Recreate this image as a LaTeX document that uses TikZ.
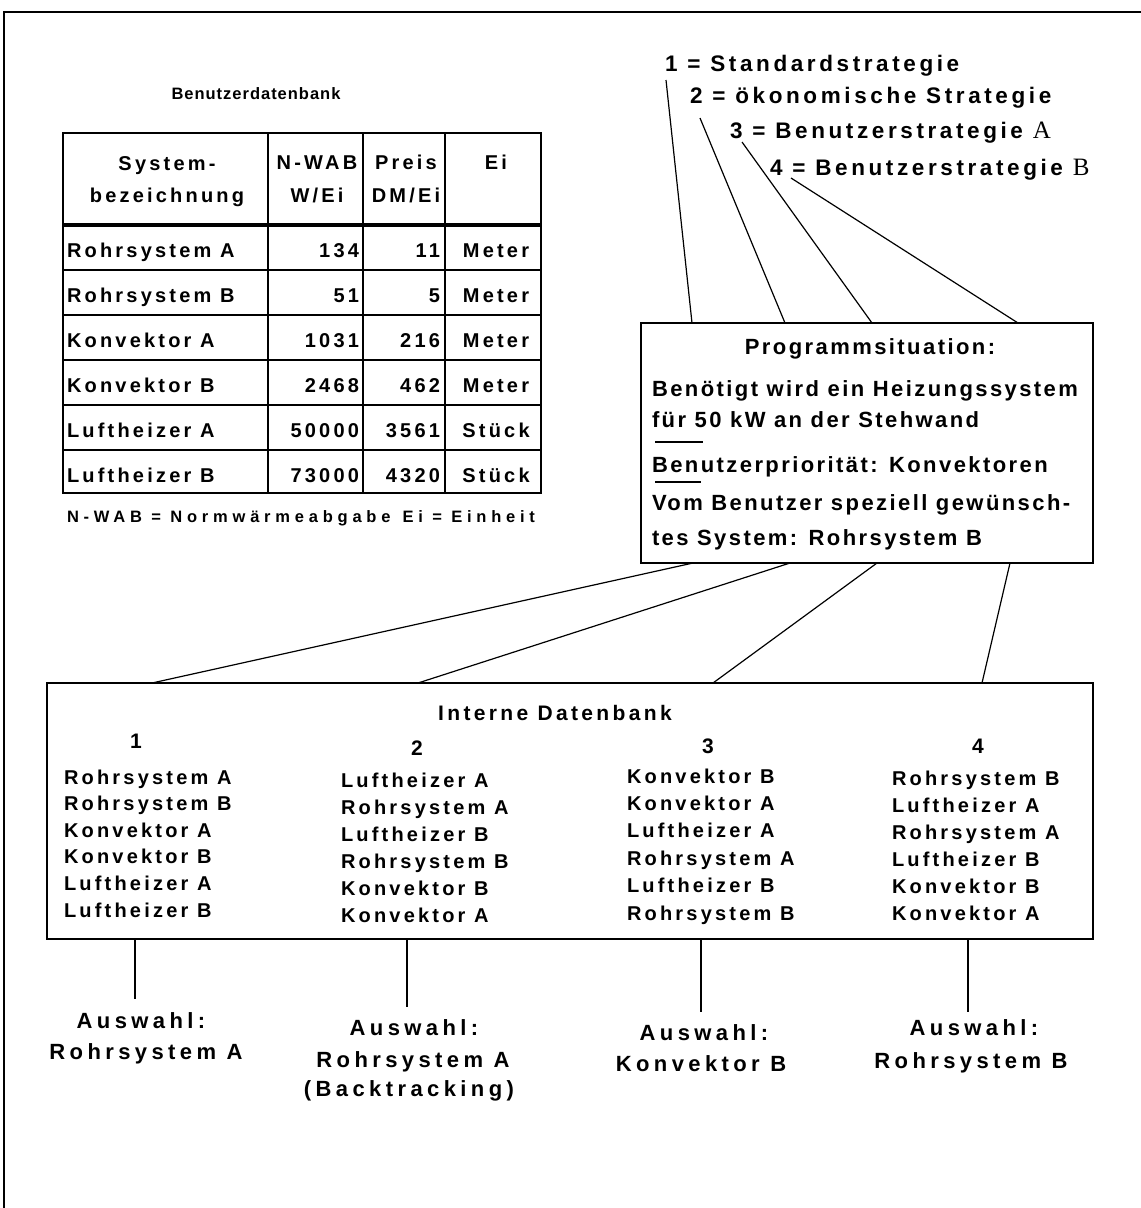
\documentclass[tikz,border=0pt]{standalone}
\usepackage{fontspec}
% one grotesque face, several trackings
\newfontfamily\gA[LetterSpace=16]{Liberation Sans}
\newfontfamily\gB[LetterSpace=11]{Liberation Sans}
\newfontfamily\gC[LetterSpace=20]{Liberation Sans}
\newfontfamily\gD[LetterSpace=29]{Liberation Sans}
\newfontfamily\gE[LetterSpace=6]{Liberation Sans}
\newfontfamily\antiqua{Liberation Serif}
\newcommand{\serifletter}[1]{{\antiqua\mdseries\fontsize{25}{25}\selectfont #1}}
\begin{document}
\begin{tikzpicture}[x=1pt,y=-1pt,
  every node/.style={inner sep=0pt, outer sep=0pt},
  txt/.style={anchor=base, font=\gA\bfseries\fontsize{20}{24}\selectfont},
  strat/.style={anchor=base west, font=\gA\bfseries\fontsize{22.5}{26}\selectfont},
  situ/.style={anchor=base west, font=\gB\bfseries\fontsize{22}{26}\selectfont},
  idbt/.style={anchor=base, font=\gA\bfseries\fontsize{21}{25}\selectfont},
  choice/.style={anchor=base, font=\gC\bfseries\fontsize{22}{26}\selectfont},
  note/.style={anchor=base west, font=\gD\bfseries\fontsize{16.5}{18}\selectfont},
  ttl/.style={anchor=base, font=\gE\bfseries\fontsize{16.5}{18}\selectfont},
  grid/.style={line width=1.8pt},
  link/.style={line width=1.2pt},
  frame/.style={draw, line width=2pt},
  tick/.style={line width=1.6pt}
]
\useasboundingbox (0,0) rectangle (1141,1208);

% page frame
\draw[line width=2pt] (4,1208) -- (4,12) -- (1141,12);

% ---------- user data base table ----------
\node[ttl] (dbtitle) at (256,99) {Benutzerdatenbank};
\draw[grid] (63,133) rectangle (541,493);
\foreach \xx in {268,363,445} \draw[grid] (\xx,133) -- (\xx,493);
\foreach \yy in {270,315,360,405,450} \draw[grid] (63,\yy) -- (541,\yy);
\draw[line width=3.6pt] (63,225) -- (541,225);

\node[txt] (h1a) at (167,170) {System-};
\node[txt] (h1b) at (167,202) {bezeichnung};
\node[txt] (h2a) at (317,169) {N-WAB};
\node[txt] (h2b) at (317,202) {W/Ei};
\node[txt] (h3a) at (406,169) {Preis};
\node[txt] (h3b) at (406,202) {DM/Ei};
\node[txt] (h4a) at (496,169) {Ei};

\foreach \nm/\wab/\pr/\ei [count=\k] in {Rohrsystem A/134/11/Meter,
    Rohrsystem B/51/5/Meter, Konvektor A/1031/216/Meter,
    Konvektor B/2468/462/Meter, Luftheizer A/50000/3561/Stück,
    Luftheizer B/73000/4320/Stück}{
  \node[txt, anchor=base west] (rn\k) at (67,212+45*\k) {\nm};
  \node[txt, anchor=base east] (rw\k) at (359,212+45*\k) {\wab};
  \node[txt, anchor=base east] (rp\k) at (440,212+45*\k) {\pr};
  \node[txt] (re\k) at (496,212+45*\k) {\ei};
}
\node[note] (legend) at (67,522) {N-WAB = Normwärmeabgabe\hspace{12pt}Ei = Einheit};

% ---------- strategies ----------
\node[strat] (s1) at (665,71) {1 = Standardstrategie};
\node[strat] (s2) at (690,103) {2 = ökonomische Strategie};
\node[strat] (s3) at (730,138) {3 = Benutzerstrategie \serifletter{A}};
\node[strat] (s4) at (770,175) {4 = Benutzerstrategie \serifletter{B}};

% ---------- program situation ----------
\node[frame, minimum width=452pt, minimum height=240pt] (prog) at (867,443) {};
\node[situ, anchor=base] (ptitle) at (870,354) {Programmsituation:};
\node[situ] (pl1) at (652,396) {Benötigt wird ein Heizungssystem};
\node[situ] (pl2) at (652,427) {für 50 kW an der Stehwand};
\node[situ] (pl3) at (652,472) {Benutzerpriorität: Konvektoren};
\node[situ] (pl4) at (652,510) {Vom Benutzer speziell gewünsch-};
\node[situ] (pl5) at (652,545) {tes System: Rohrsystem B};
\coordinate (u1a) at (655,442); \coordinate (u1b) at (703,442);
\coordinate (u2a) at (655,482); \coordinate (u2b) at (701,482);
\draw[tick] (u1a) -- (u1b);
\draw[tick] (u2a) -- (u2b);

% strategy leaders into the situation box
\coordinate (a1) at (666,80);  \coordinate (b1) at (692,323);
\coordinate (a2) at (700,118); \coordinate (b2) at (785,323);
\coordinate (a3) at (742,142); \coordinate (b3) at (872,323);
\coordinate (a4) at (791,178); \coordinate (b4) at (1018,323);
\foreach \i in {1,...,4} \draw[link] (a\i) -- (b\i);

% ---------- internal data base ----------
\node[frame, minimum width=1046pt, minimum height=256pt] (idb) at (570,811) {};
\node[idbt] (ititle) at (555,720) {Interne Datenbank};

\coordinate (c1) at (693,563); \coordinate (d1) at (152,683);
\coordinate (c2) at (790,563); \coordinate (d2) at (418,683);
\coordinate (c3) at (877,563); \coordinate (d3) at (713,683);
\coordinate (c4) at (1010,563); \coordinate (d4) at (982,683);
\foreach \i in {1,...,4} \draw[link] (c\i) -- (d\i);

\node[idbt] (n1) at (136,748) {1};
\node[idbt] (n2) at (417,755) {2};
\node[idbt] (n3) at (708,753) {3};
\node[idbt] (n4) at (978,753) {4};

\foreach \e [count=\k] in {Rohrsystem A, Rohrsystem B, Konvektor A,
    Konvektor B, Luftheizer A, Luftheizer B}
  \node[txt, anchor=base west] (la\k) at (64,784+26.6*\k-26.6) {\e};
\foreach \e [count=\k] in {Luftheizer A, Rohrsystem A, Luftheizer B,
    Rohrsystem B, Konvektor B, Konvektor A}
  \node[txt, anchor=base west] (lb\k) at (341,787+27*\k-27) {\e};
\foreach \e [count=\k] in {Konvektor B, Konvektor A, Luftheizer A,
    Rohrsystem A, Luftheizer B, Rohrsystem B}
  \node[txt, anchor=base west] (lc\k) at (627,783+27.4*\k-27.4) {\e};
\foreach \e [count=\k] in {Rohrsystem B, Luftheizer A, Rohrsystem A,
    Luftheizer B, Konvektor B, Konvektor A}
  \node[txt, anchor=base west] (ld\k) at (892,785+27*\k-27) {\e};

% ---------- results ----------
\node[choice] (r1a) at (141,1028) {Auswahl:};
\node[choice] (r1b) at (146,1059) {Rohrsystem A};
\node[choice] (r2a) at (414,1035) {Auswahl:};
\node[choice] (r2b) at (413,1067) {Rohrsystem A};
\node[choice] (r2c) at (409,1096) {(Backtracking)};
\node[choice] (r3a) at (704,1040) {Auswahl:};
\node[choice] (r3b) at (701,1071) {Konvektor B};
\node[choice] (r4a) at (974,1035) {Auswahl:};
\node[choice] (r4b) at (971,1068) {Rohrsystem B};

\coordinate (e1) at (135,940);  \coordinate (f1) at (135,999);
\coordinate (e2) at (407,940);  \coordinate (f2) at (407,1007);
\coordinate (e3) at (701,940);  \coordinate (f3) at (701,1012);
\coordinate (e4) at (968,940);  \coordinate (f4) at (968,1012);
\foreach \i in {1,...,4} \draw[link] (e\i) -- (f\i);
\end{tikzpicture}
\end{document}
